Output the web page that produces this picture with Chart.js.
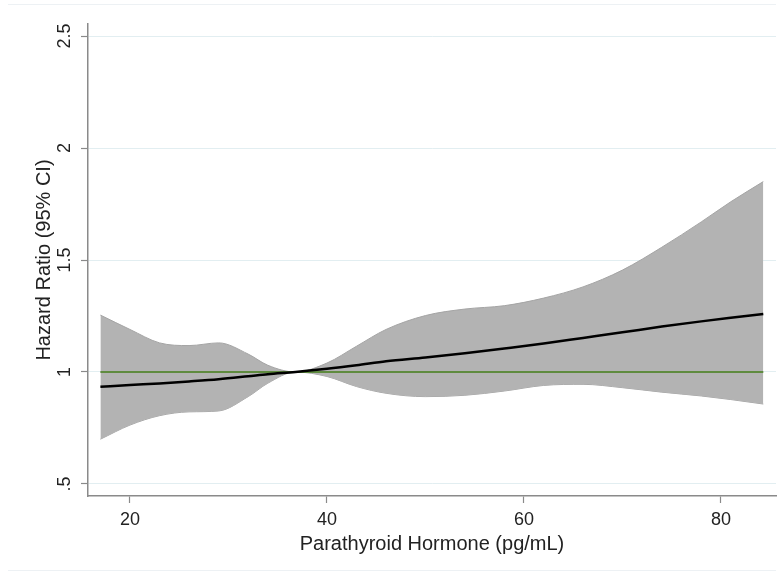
<!DOCTYPE html>
<html>
<head>
<meta charset="utf-8">
<title>Hazard ratio by parathyroid hormone</title>
<script src="https://cdn.jsdelivr.net/npm/chart.js@4.4.1/dist/chart.umd.min.js"></script>
<style>
  html, body { margin: 0; padding: 0; background: #ffffff; }
  #wrap { width: 784px; height: 573px; position: relative; }
</style>
</head>
<body>
<div id="wrap"><canvas id="hrChart"></canvas></div>
<script>
// ---- data ----
const pth      = [17, 20, 23, 26, 29, 32, 34, 36.8, 40, 43, 46, 50, 54, 58, 62, 66, 70, 74, 78, 81, 84.3];
const hazard   = [0.934, 0.942, 0.949, 0.958, 0.968, 0.981, 0.99, 1.0, 1.014, 1.03, 1.048, 1.065, 1.084, 1.105, 1.127, 1.152, 1.177, 1.203, 1.226, 1.242, 1.259];
const ciUpper  = [1.254, 1.19, 1.13, 1.118, 1.13, 1.08, 1.03, 1.0, 1.04, 1.115, 1.19, 1.252, 1.281, 1.296, 1.33, 1.38, 1.455, 1.557, 1.67, 1.76, 1.85];
const ciLower  = [0.70, 0.763, 0.805, 0.822, 0.826, 0.89, 0.95, 1.0, 0.98, 0.935, 0.905, 0.89, 0.896, 0.915, 0.94, 0.945, 0.93, 0.91, 0.893, 0.877, 0.857];
const refX     = [17, 84.3];
const refY     = [1, 1];

const xTicks       = [20, 40, 60, 80];
const yTicks       = [0.5, 1, 1.5, 2, 2.5];
const yTickLabels  = ['.5', '1', '1.5', '2', '2.5'];

const FONT = "'Liberation Sans', Arial, Helvetica, sans-serif";
const TEXT = '#222222';
const AXIS = '#8a8a8a';

// pair x values with a series
function pts(xs, ys) {
  return xs.map((x, i) => ({ x: x, y: ys[i] }));
}

// y tick labels in Stata are rotated (read bottom to top)
const rotatedYLabels = {
  id: 'rotatedYLabels',
  afterDraw(chart) {
    const ctx = chart.ctx;
    const y = chart.scales.y;
    ctx.save();
    ctx.font = '18px ' + FONT;
    ctx.fillStyle = TEXT;
    ctx.textAlign = 'center';
    ctx.textBaseline = 'middle';
    yTicks.forEach((v, i) => {
      ctx.save();
      ctx.translate(65, y.getPixelForValue(v));
      ctx.rotate(-Math.PI / 2);
      ctx.fillText(yTickLabels[i], 0, 0);
      ctx.restore();
    });
    // faint graph-region frame lines
    ctx.strokeStyle = '#edf1f4';
    ctx.lineWidth = 1;
    ctx.beginPath();
    ctx.moveTo(8, 4.5); ctx.lineTo(776, 4.5);
    ctx.moveTo(8, 570.5); ctx.lineTo(776, 570.5);
    ctx.stroke();
    ctx.restore();
  }
};

const ctx = document.getElementById('hrChart').getContext('2d');
new Chart(ctx, {
  type: 'line',
  data: {
    datasets: [
      {
        label: 'lower',
        data: pts(pth, ciLower),
        borderColor: '#a4a4a4',
        borderWidth: 1,
        pointRadius: 0,
        fill: false,
        cubicInterpolationMode: 'monotone',
        order: 3
      },
      {
        label: 'upper',
        data: pts(pth, ciUpper),
        borderColor: '#a4a4a4',
        borderWidth: 1,
        backgroundColor: '#b3b3b3',
        pointRadius: 0,
        fill: '-1',
        cubicInterpolationMode: 'monotone',
        order: 2
      },
      {
        label: 'reference',
        data: pts(refX, refY),
        borderColor: '#5f8b3f',
        borderWidth: 2,
        pointRadius: 0,
        fill: false,
        order: 1
      },
      {
        label: 'HR',
        data: pts(pth, hazard),
        borderColor: '#000000',
        borderWidth: 2.5,
        pointRadius: 0,
        fill: false,
        cubicInterpolationMode: 'monotone',
        order: 0
      }
    ]
  },
  options: {
    responsive: true,
    maintainAspectRatio: false,
    animation: false,
    layout: { padding: { top: 24, right: 8, bottom: 0, left: 0 } },
    plugins: {
      legend: { display: false },
      tooltip: { enabled: false }
    },
    scales: {
      x: {
        type: 'linear',
        min: 15.74,
        max: 85.59,
        afterBuildTicks: (scale) => { scale.ticks = xTicks.map(v => ({ value: v })); },
        afterFit: (scale) => { scale.height = 77; },
        grid: { drawOnChartArea: false, drawTicks: true, tickLength: 7, tickColor: AXIS, tickWidth: 1.2 },
        border: { color: AXIS, width: 1.5 },
        ticks: {
          color: TEXT,
          font: { family: FONT, size: 18 },
          padding: 6,
          maxRotation: 0,
          callback: (v) => String(v)
        },
        title: {
          display: true,
          text: 'Parathyroid Hormone (pg/mL)',
          color: TEXT,
          font: { family: FONT, size: 20 },
          padding: { top: 0, bottom: 17 }
        }
      },
      y: {
        type: 'linear',
        min: 0.4464,
        max: 2.5536,
        afterBuildTicks: (scale) => { scale.ticks = yTicks.map(v => ({ value: v })); },
        afterFit: (scale) => { scale.width = 88; },
        grid: { color: '#e2eef1', lineWidth: 1, drawTicks: true, tickLength: 7, tickColor: AXIS, tickWidth: 1.2 },
        border: { color: AXIS, width: 1.5 },
        ticks: { display: false },
        title: {
          display: true,
          text: 'Hazard Ratio (95% CI)',
          color: TEXT,
          font: { family: FONT, size: 20 },
          padding: { top: 32, bottom: 0 }
        }
      }
    }
  },
  plugins: [rotatedYLabels]
});
</script>
</body>
</html>
